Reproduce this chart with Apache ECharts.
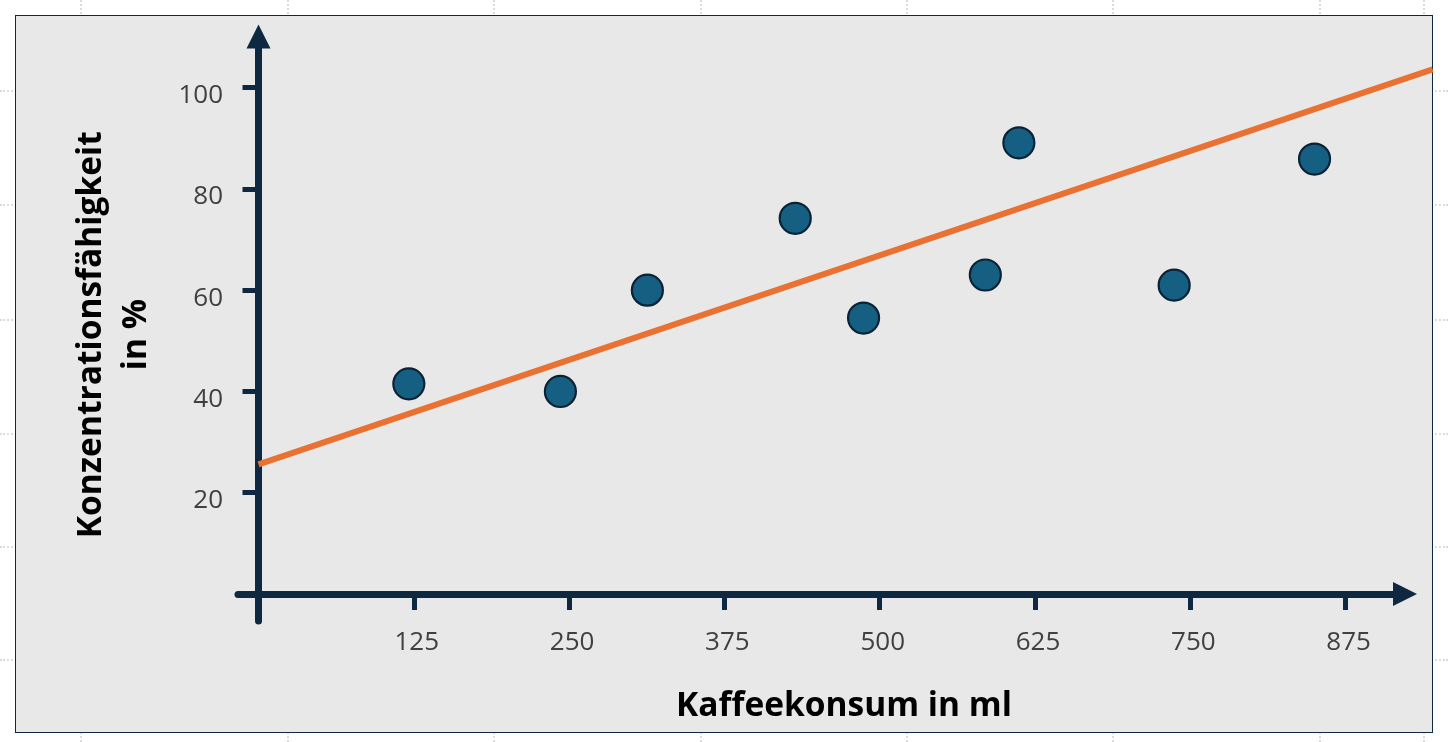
<!DOCTYPE html>
<html>
<head>
    <meta charset="utf-8">
    <title>Kaffeekonsum und Konzentrationsfähigkeit</title>
    <script src="https://cdn.jsdelivr.net/npm/echarts@6.0.0/dist/echarts.min.js"></script>
    <style>
        html, body {
            margin: 0;
            padding: 0;
            width: 1448px;
            height: 742px;
            overflow: hidden;
            background: #fff;
        }
        .guide-v, .guide-h {
            position: absolute;
        }
        .guide-v {
            top: 0;
            height: 742px;
            border-left: 2px dotted #dcdcdc;
        }
        .guide-h {
            left: 0;
            width: 1448px;
            border-top: 2px dotted #dcdcdc;
        }
        .panel {
            position: absolute;
            left: 15px;
            top: 15px;
            width: 1416px;
            height: 716px;
            background: #e8e8e8;
            border: 1.5px solid #0e2841;
        }
        #chart {
            position: absolute;
            left: 0;
            top: 0;
            width: 1448px;
            height: 742px;
        }
    </style>
</head>
<body>
    <div class="guide-v" style="left:80px"></div>
    <div class="guide-v" style="left:287px"></div>
    <div class="guide-v" style="left:493px"></div>
    <div class="guide-v" style="left:700px"></div>
    <div class="guide-v" style="left:906px"></div>
    <div class="guide-v" style="left:1112px"></div>
    <div class="guide-v" style="left:1319px"></div>
    <div class="guide-v" style="left:1423px"></div>
    <div class="guide-h" style="top:90px"></div>
    <div class="guide-h" style="top:204px"></div>
    <div class="guide-h" style="top:319px"></div>
    <div class="guide-h" style="top:433px"></div>
    <div class="guide-h" style="top:546px"></div>
    <div class="guide-h" style="top:659px"></div>
    <div class="panel"></div>
    <div id="chart"></div>

<script>
// Messwerte: Kaffeekonsum (ml) und Konzentrationsfähigkeit (%)
const coffeeMl = [121, 243, 313, 432, 487, 585, 612, 737, 850];
const focusPct = [41.5, 40.0, 60.0, 74.2, 54.5, 63.0, 89.1, 61.0, 85.9];

// Trendlinie (Anfangs- und Endpunkt)
const trendX = [0, 945];
const trendY = [25.6, 103.6];

// Achsenbeschriftungen
const xTicks = [125, 250, 375, 500, 625, 750, 875];
const yTicks = [20, 40, 60, 80, 100];

const navy = '#0e2841';
const labelFont = "'Open Sans', 'Noto Sans', sans-serif";

const points = coffeeMl.map((x, i) => [x, focusPct[i]]);
const trend = trendX.map((x, i) => [x, trendY[i]]);

// gemeinsame Skala beider Grids
const X_MIN = -16.5, Y_MIN = -5.33, Y_MAX = 110.1;
const gridTop = 36.5, gridBottom = 121, gridLeft = 238;

const chart = echarts.init(document.getElementById('chart'));

const option = {
    backgroundColor: 'transparent',
    animation: false,
    grid: [
        // Achsen und Punkte
        { left: gridLeft, right: 43, top: gridTop, bottom: gridBottom, outerBoundsMode: 'none' },
        // Trendlinie: läuft bis an den Rand des Rahmens
        { left: gridLeft, right: 15, top: gridTop, bottom: gridBottom, outerBoundsMode: 'none' }
    ],
    xAxis: [{
        type: 'value',
        gridIndex: 0,
        min: X_MIN,
        max: 922.8,
        name: 'Kaffeekonsum in ml',
        nameLocation: 'middle',
        nameGap: 68,
        nameMoveOverlap: false,
        nameTextStyle: {
            fontFamily: labelFont,
            fontSize: 33.5,
            fontWeight: 'bold',
            color: '#000',
            padding: [0, 0, 0, 45]
        },
        axisLine: {
            onZero: true,
            symbol: ['none', 'triangle'],
            symbolSize: [24, 24],
            lineStyle: { color: navy, width: 7 }
        },
        axisTick: {
            show: true,
            length: 16,
            customValues: xTicks,
            lineStyle: { color: navy, width: 5 }
        },
        axisLabel: {
            customValues: xTicks,
            margin: 9,
            fontFamily: labelFont,
            fontSize: 26,
            color: '#404040',
            padding: [0, 0, 0, 6]
        },
        splitLine: { show: false }
    }, {
        type: 'value',
        gridIndex: 1,
        min: X_MIN,
        max: 945.3,
        show: false
    }],
    yAxis: [{
        type: 'value',
        gridIndex: 0,
        min: Y_MIN,
        max: Y_MAX,
        name: 'Konzentrationsfähigkeit\nin %',
        nameLocation: 'middle',
        nameGap: 79,
        nameMoveOverlap: false,
        nameTextStyle: {
            fontFamily: labelFont,
            fontSize: 33.5,
            fontWeight: 'bold',
            color: '#000',
            lineHeight: 45,
            padding: [0, 12, 0, 0]
        },
        axisLine: {
            onZero: true,
            symbol: ['none', 'triangle'],
            symbolSize: [24, 24],
            lineStyle: { color: navy, width: 7 }
        },
        axisTick: {
            show: true,
            length: 16,
            customValues: yTicks,
            lineStyle: { color: navy, width: 5 }
        },
        axisLabel: {
            customValues: yTicks,
            margin: 15,
            verticalAlign: 'top',
            lineHeight: 16,
            fontFamily: labelFont,
            fontSize: 26,
            color: '#404040'
        },
        splitLine: { show: false }
    }, {
        type: 'value',
        gridIndex: 1,
        min: Y_MIN,
        max: Y_MAX,
        show: false
    }],
    series: [
        {
            type: 'line',
            xAxisIndex: 1,
            yAxisIndex: 1,
            data: trend,
            symbol: 'none',
            lineStyle: { color: '#e97132', width: 6 },
            z: 3
        },
        {
            type: 'scatter',
            xAxisIndex: 0,
            yAxisIndex: 0,
            data: points,
            symbol: 'circle',
            symbolSize: 31,
            itemStyle: {
                color: '#156082',
                borderColor: '#0b2235',
                borderWidth: 2.2,
                opacity: 1
            },
            z: 4
        }
    ]
};

chart.setOption(option);
</script>
</body>
</html>
